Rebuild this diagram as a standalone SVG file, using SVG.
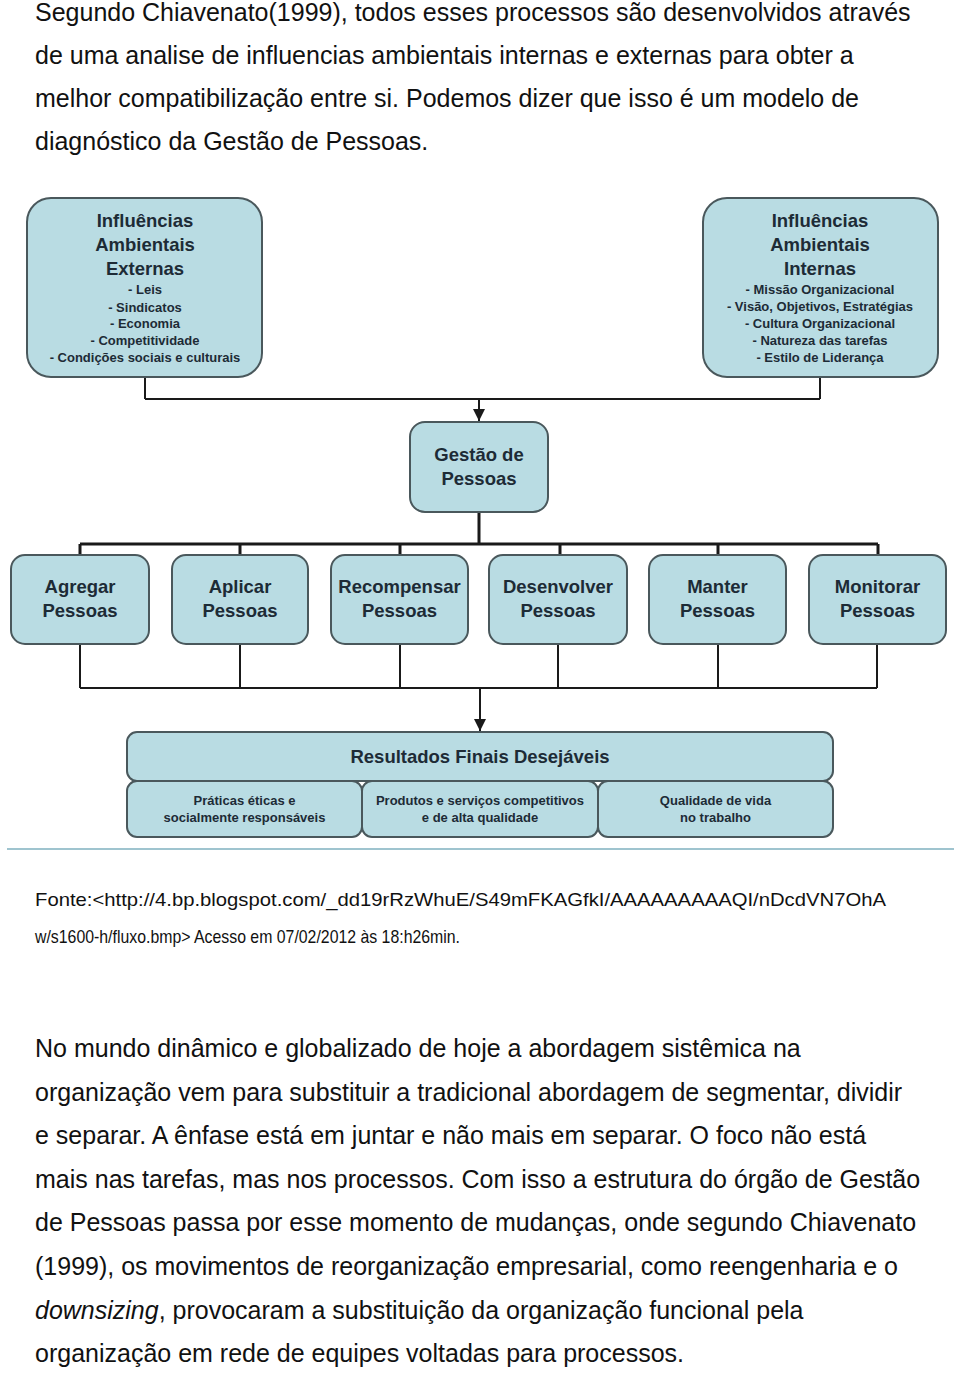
<svg xmlns="http://www.w3.org/2000/svg" width="960" height="1374" viewBox="0 0 960 1374">
<style>
.body{font-family:"Liberation Sans",Arial,sans-serif;font-size:25px;fill:#111}
.src{font-family:"Liberation Sans",Arial,sans-serif;font-size:19px;fill:#111}
.box{fill:#b9dce3;stroke:#4a585c;stroke-width:2}
.t{font-family:"Liberation Sans",Arial,sans-serif;font-weight:bold;font-size:18.5px;fill:#1d2b36;text-anchor:middle}
.s{font-family:"Liberation Sans",Arial,sans-serif;font-weight:bold;font-size:13px;fill:#1d2b36;text-anchor:middle}
.ln{stroke:#1a1a1a;fill:none;stroke-width:2}
.lnb{stroke:#1a1a1a;fill:none;stroke-width:3}
</style>
<defs>
<marker id="arr" viewBox="0 0 10 10" refX="10" refY="5" markerWidth="12" markerHeight="12" markerUnits="userSpaceOnUse" orient="auto">
<path d="M0,0 L10,5 L0,10 Z" fill="#1a1a1a"/>
</marker>
</defs>
<rect width="960" height="1374" fill="#ffffff"/>

<g id="intro">
<text class="body" x="35" y="21">Segundo Chiavenato(1999), todos esses processos são desenvolvidos através</text>
<text class="body" x="35" y="63.5">de uma analise de influencias ambientais internas e externas para obter a</text>
<text class="body" x="35" y="106.5">melhor compatibilização entre si. Podemos dizer que isso é um modelo de</text>
<text class="body" x="35" y="149.5">diagnóstico da Gestão de Pessoas.</text>
</g>

<g id="connectors">
<path class="ln" d="M145,377 V399 M820,377 V399 M145,399 H820"/>
<path class="ln" d="M479,399 V421" marker-end="url(#arr)"/>
<path class="lnb" d="M479,512 V544 M80,544 H878 M80,544 V555 M240,544 V555 M400,544 V555 M560,544 V555 M718,544 V555 M878,544 V555"/>
<path class="ln" d="M80,644 V688 M240,644 V688 M400,644 V688 M558,644 V688 M718,644 V688 M877,644 V688 M80,688 H877"/>
<path class="ln" d="M480,688 V731" marker-end="url(#arr)"/>
</g>

<g id="externas">
<rect class="box" x="27" y="198" width="235" height="179" rx="24"/>
<text class="t" x="145" y="227">Influências</text>
<text class="t" x="145" y="251">Ambientais</text>
<text class="t" x="145" y="275">Externas</text>
<text class="s" x="145" y="294">- Leis</text>
<text class="s" x="145" y="311.5">- Sindicatos</text>
<text class="s" x="145" y="328">- Economia</text>
<text class="s" x="145" y="345">- Competitividade</text>
<text class="s" x="145" y="362">- Condições sociais e culturais</text>
</g>

<g id="internas">
<rect class="box" x="703" y="198" width="235" height="179" rx="24"/>
<text class="t" x="820" y="227">Influências</text>
<text class="t" x="820" y="251">Ambientais</text>
<text class="t" x="820" y="275">Internas</text>
<text class="s" x="820" y="294">- Missão Organizacional</text>
<text class="s" x="820" y="311">- Visão, Objetivos, Estratégias</text>
<text class="s" x="820" y="328">- Cultura Organizacional</text>
<text class="s" x="820" y="345">- Natureza das tarefas</text>
<text class="s" x="820" y="362">- Estilo de Liderança</text>
</g>

<g id="gestao">
<rect class="box" x="410" y="422" width="138" height="90" rx="15"/>
<text class="t" x="479" y="461">Gestão de</text>
<text class="t" x="479" y="485">Pessoas</text>
</g>

<g id="agregar">
<rect class="box" x="11" y="555" width="138" height="89" rx="14"/>
<text class="t" x="80" y="593">Agregar</text>
<text class="t" x="80" y="617">Pessoas</text>
</g>
<g id="aplicar">
<rect class="box" x="172" y="555" width="136" height="89" rx="14"/>
<text class="t" x="240" y="593">Aplicar</text>
<text class="t" x="240" y="617">Pessoas</text>
</g>
<g id="recompensar">
<rect class="box" x="331" y="555" width="137" height="89" rx="14"/>
<text class="t" x="399.5" y="593">Recompensar</text>
<text class="t" x="399.5" y="617">Pessoas</text>
</g>
<g id="desenvolver">
<rect class="box" x="489" y="555" width="138" height="89" rx="14"/>
<text class="t" x="558" y="593">Desenvolver</text>
<text class="t" x="558" y="617">Pessoas</text>
</g>
<g id="manter">
<rect class="box" x="649" y="555" width="137" height="89" rx="14"/>
<text class="t" x="717.5" y="593">Manter</text>
<text class="t" x="717.5" y="617">Pessoas</text>
</g>
<g id="monitorar">
<rect class="box" x="809" y="555" width="137" height="89" rx="14"/>
<text class="t" x="877.5" y="593">Monitorar</text>
<text class="t" x="877.5" y="617">Pessoas</text>
</g>

<g id="resultados">
<rect class="box" x="127" y="732" width="706" height="49" rx="10"/>
<text class="t" x="480" y="763">Resultados Finais Desejáveis</text>
<rect class="box" x="127" y="781" width="235" height="56" rx="10"/>
<text class="s" x="244.5" y="805">Práticas éticas e</text>
<text class="s" x="244.5" y="822">socialmente responsáveis</text>
<rect class="box" x="362" y="781" width="236" height="56" rx="10"/>
<text class="s" x="480" y="805">Produtos e serviços competitivos</text>
<text class="s" x="480" y="822">e de alta qualidade</text>
<rect class="box" x="598" y="781" width="235" height="56" rx="10"/>
<text class="s" x="715.5" y="805">Qualidade de vida</text>
<text class="s" x="715.5" y="822">no trabalho</text>
</g>

<line x1="7" y1="849" x2="954" y2="849" stroke="#9fc4cf" stroke-width="2"/>

<g id="fonte">
<text class="src" x="35" y="906" textLength="851" lengthAdjust="spacingAndGlyphs">Fonte:&lt;http://4.bp.blogspot.com/_dd19rRzWhuE/S49mFKAGfkI/AAAAAAAAAQI/nDcdVN7OhA</text>
<text class="src" x="35" y="943" textLength="425" lengthAdjust="spacingAndGlyphs">w/s1600-h/fluxo.bmp&gt; Acesso em 07/02/2012 às 18:h26min.</text>
</g>

<g id="paragraph">
<text class="body" x="35" y="1057">No mundo dinâmico e globalizado de hoje a abordagem sistêmica na</text>
<text class="body" x="35" y="1100.6">organização vem para substituir a tradicional abordagem de segmentar, dividir</text>
<text class="body" x="35" y="1144.2">e separar. A ênfase está em juntar e não mais em separar. O foco não está</text>
<text class="body" x="35" y="1187.8">mais nas tarefas, mas nos processos. Com isso a estrutura do órgão de Gestão</text>
<text class="body" x="35" y="1231.4">de Pessoas passa por esse momento de mudanças, onde segundo Chiavenato</text>
<text class="body" x="35" y="1275">(1999), os movimentos de reorganização empresarial, como reengenharia e o</text>
<text class="body" x="35" y="1318.6"><tspan font-style="italic">downsizing</tspan>, provocaram a substituição da organização funcional pela</text>
<text class="body" x="35" y="1362.2">organização em rede de equipes voltadas para processos.</text>
</g>
</svg>
